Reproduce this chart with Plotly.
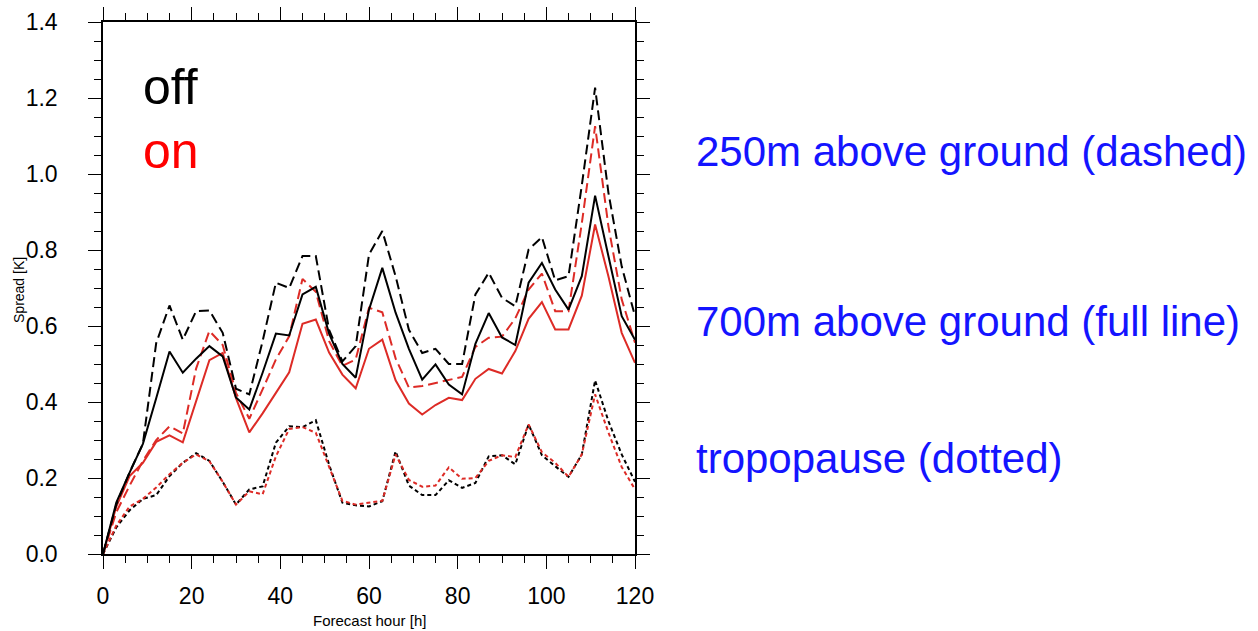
import plotly.graph_objects as go

hours = list(range(0, 121, 3))

off_250m = [0.0, 0.13, 0.215, 0.29, 0.555, 0.654, 0.564, 0.639, 0.641, 0.582,
            0.435, 0.42, 0.56, 0.714, 0.70, 0.784, 0.784, 0.59, 0.507, 0.547,
            0.788, 0.85, 0.731, 0.59, 0.529, 0.54, 0.50, 0.50, 0.683, 0.74,
            0.674, 0.652, 0.801, 0.834, 0.72, 0.731, 0.97, 1.227, 0.951, 0.757,
            0.626]
off_700m = [0.0, 0.135, 0.214, 0.29, 0.41, 0.533, 0.477, 0.514, 0.547, 0.52,
            0.412, 0.38, 0.477, 0.58, 0.575, 0.683, 0.703, 0.58, 0.50, 0.464,
            0.643, 0.753, 0.635, 0.54, 0.459, 0.499, 0.446, 0.42, 0.553, 0.634,
            0.57, 0.55, 0.714, 0.766, 0.696, 0.643, 0.731, 0.943, 0.784, 0.626,
            0.564]
on_250m = [0.0, 0.11, 0.18, 0.245, 0.30, 0.336, 0.317, 0.488, 0.587, 0.55,
           0.424, 0.356, 0.433, 0.512, 0.573, 0.724, 0.69, 0.56, 0.495, 0.512,
           0.648, 0.636, 0.515, 0.438, 0.442, 0.45, 0.459, 0.466, 0.545, 0.569,
           0.572, 0.62, 0.696, 0.738, 0.639, 0.639, 0.87, 1.126, 0.863, 0.67,
           0.556]
on_700m = [0.0, 0.125, 0.205, 0.24, 0.295, 0.312, 0.294, 0.40, 0.51, 0.529,
           0.41, 0.32, 0.37, 0.424, 0.478, 0.606, 0.617, 0.53, 0.472, 0.436,
           0.54, 0.564, 0.457, 0.396, 0.367, 0.392, 0.411, 0.405, 0.461, 0.487,
           0.475, 0.534, 0.619, 0.663, 0.591, 0.591, 0.68, 0.867, 0.731, 0.582,
           0.503]
off_trop = [0.0, 0.07, 0.115, 0.145, 0.155, 0.205, 0.24, 0.265, 0.245, 0.19,
            0.13, 0.17, 0.178, 0.293, 0.336, 0.334, 0.352, 0.235, 0.135, 0.128,
            0.125, 0.139, 0.27, 0.18, 0.155, 0.155, 0.194, 0.174, 0.187, 0.257,
            0.26, 0.236, 0.341, 0.26, 0.231, 0.203, 0.262, 0.457, 0.35, 0.262,
            0.19]
on_trop = [0.0, 0.075, 0.125, 0.145, 0.175, 0.21, 0.24, 0.262, 0.244, 0.19,
           0.13, 0.165, 0.157, 0.257, 0.329, 0.334, 0.319, 0.23, 0.14, 0.13,
           0.135, 0.14, 0.262, 0.195, 0.177, 0.18, 0.228, 0.198, 0.2, 0.245,
           0.26, 0.255, 0.341, 0.268, 0.24, 0.203, 0.262, 0.42, 0.32, 0.229,
           0.17]

x_ticks = [0, 20, 40, 60, 80, 100, 120]
y_ticks = [0.0, 0.2, 0.4, 0.6, 0.8, 1.0, 1.2, 1.4]
y_tick_labels = ["0.0", "0.2", "0.4", "0.6", "0.8", "1.0", "1.2", "1.4"]

BLACK = "#000000"
RED = "#dd2b26"
DASH = "10px,5px"
DOT = "4px,3px"
W = 2.0

series = [
    (off_trop, BLACK, DOT),
    (on_trop, RED, DOT),
    (on_700m, RED, "solid"),
    (on_250m, RED, DASH),
    (off_700m, BLACK, "solid"),
    (off_250m, BLACK, DASH),
]

fig = go.Figure()
for vals, col, dash in series:
    fig.add_trace(go.Scatter(x=hours, y=vals, mode="lines",
                             line=dict(color=col, width=W, dash=dash),
                             showlegend=False, hoverinfo="skip"))

FONT = "Liberation Sans, Arial, Helvetica, sans-serif"

axis_common = dict(showline=True, linecolor="black", linewidth=1.5,
                   mirror="ticks", ticks="outside", ticklen=13, tickwidth=1.3,
                   tickcolor="black", showgrid=False, zeroline=False,
                   automargin=False,
                   tickfont=dict(family=FONT, size=23, color="black"))

fig.update_xaxes(range=[0, 120], tickvals=x_ticks,
                 minor=dict(dtick=5, ticks="outside", ticklen=7, tickwidth=1.2,
                            tickcolor="black", showgrid=False),
                 ticklabelstandoff=8,
                 **axis_common)
fig.update_yaxes(range=[0, 1.4], tickvals=y_ticks, ticktext=y_tick_labels,
                 minor=dict(dtick=0.05, ticks="outside", ticklen=7, tickwidth=1.2,
                            tickcolor="black", showgrid=False),
                 ticklabelstandoff=26,
                 **axis_common)

L, R, T, B = 103, 635, 21.5, 554.5
PW, PH = R - L, B - T

def px(xp):
    return (xp - L) / PW

def py(yp):
    return (B - yp) / PH

BLUE = "#1414ff"
annots = [
    ("off", 141, 87, "black", 50, 0),
    ("on", 141, 151, "#ff0000", 50, 0),
    ("250m above ground (dashed)", 694, 151, BLUE, 42, 0),
    ("700m above ground (full line)", 694, 322, BLUE, 42, 0),
    ("tropopause (dotted)", 694, 459, BLUE, 42, 0),
]
for txt, xp, yp, col, size, ang in annots:
    fig.add_annotation(text=txt, xref="paper", yref="paper", x=px(xp), y=py(yp),
                       xanchor="left", yanchor="middle", showarrow=False,
                       font=dict(family=FONT, size=size, color=col))

# axis titles
fig.add_annotation(text="Forecast hour [h]", xref="paper", yref="paper",
                   x=px(369), y=py(621), xanchor="center", yanchor="middle",
                   showarrow=False, font=dict(family=FONT, size=15, color="black"))
fig.add_annotation(text="Spread [K]", xref="paper", yref="paper",
                   x=px(19), y=py(290), xanchor="center", yanchor="middle",
                   textangle=-90, showarrow=False,
                   font=dict(family=FONT, size=14, color="black"))

fig.update_layout(width=1258, height=631,
                  margin=dict(l=L, r=1258 - R, t=T, b=631 - B),
                  paper_bgcolor="white", plot_bgcolor="white")

fig.write_html("out.html")
